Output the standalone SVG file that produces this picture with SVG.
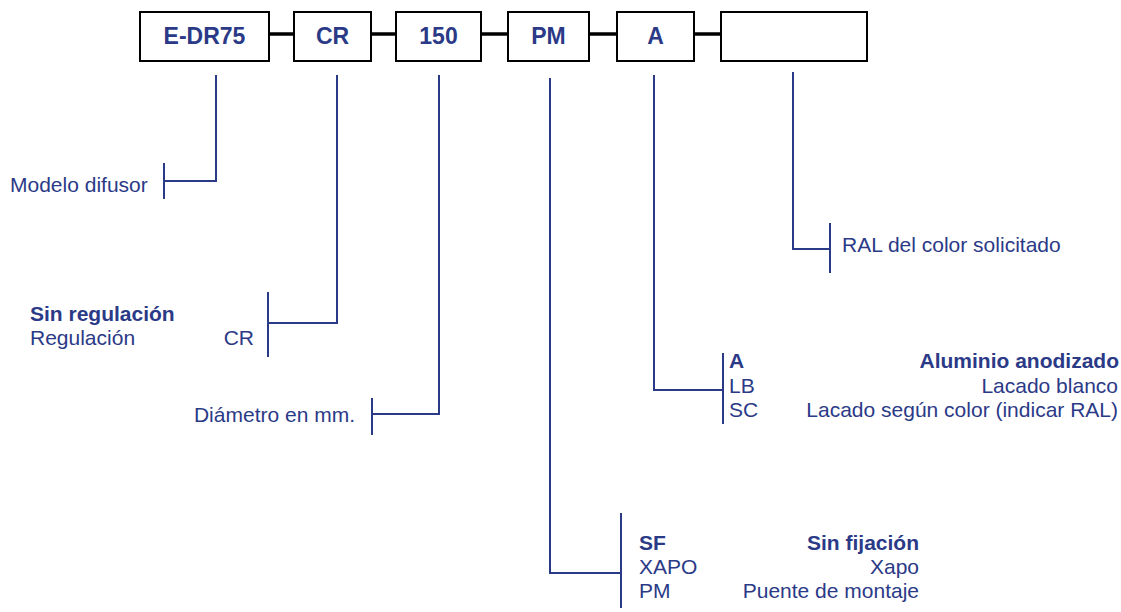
<svg xmlns="http://www.w3.org/2000/svg" width="1121" height="612" viewBox="0 0 1121 612">
<style>
.box{fill:#fff;stroke:#000;stroke-width:2}
.bt{font-family:"Liberation Sans",Arial,sans-serif;font-weight:bold;font-size:23px;fill:#2B3A87;text-anchor:middle}
.t{font-family:"Liberation Sans",Arial,sans-serif;font-size:21px;fill:#2B3A87}
.b{font-weight:bold}
.e{text-anchor:end}
.ln{fill:none;stroke:#2B3A87;stroke-width:2}
.lk{stroke:#000;stroke-width:3.5}
</style>
<rect width="1121" height="612" fill="#fff"/>
<g id="connectors">
<line class="lk" x1="269" y1="34" x2="294" y2="34"/>
<line class="lk" x1="371" y1="34" x2="396" y2="34"/>
<line class="lk" x1="481" y1="34" x2="508" y2="34"/>
<line class="lk" x1="589" y1="34" x2="617" y2="34"/>
<line class="lk" x1="694" y1="34" x2="721" y2="34"/>
<polyline class="ln" points="216,75 216,181 164,181"/>
<line class="ln" x1="164" y1="163" x2="164" y2="199"/>
<polyline class="ln" points="337,75 337,323 268,323"/>
<line class="ln" x1="268" y1="292" x2="268" y2="357"/>
<polyline class="ln" points="439,75 439,414 372,414"/>
<line class="ln" x1="372" y1="398" x2="372" y2="435"/>
<polyline class="ln" points="550,78 550,573 621,573"/>
<line class="ln" x1="621" y1="513" x2="621" y2="608"/>
<polyline class="ln" points="654,75 654,390 723,390"/>
<line class="ln" x1="723" y1="353" x2="723" y2="424"/>
<polyline class="ln" points="793,72 793,249 830,249"/>
<line class="ln" x1="830" y1="223" x2="830" y2="273"/>
</g>
<g id="n-edr75"><rect class="box" x="140" y="12" width="129" height="49"/><text class="bt" x="204.5" y="44">E-DR75</text></g>
<g id="n-cr"><rect class="box" x="294" y="12" width="77" height="49"/><text class="bt" x="332.5" y="44">CR</text></g>
<g id="n-150"><rect class="box" x="396" y="12" width="85" height="49"/><text class="bt" x="438.5" y="44">150</text></g>
<g id="n-pm"><rect class="box" x="508" y="12" width="81" height="49"/><text class="bt" x="548.5" y="44">PM</text></g>
<g id="n-a"><rect class="box" x="617" y="12" width="77" height="49"/><text class="bt" x="655.5" y="44">A</text></g>
<g id="n-ral"><rect class="box" x="721" y="12" width="146" height="49"/></g>
<g id="l-modelo"><text class="t" x="10" y="192">Modelo difusor</text></g>
<g id="l-regulacion">
<text class="t b" x="30" y="321">Sin regulación</text>
<text class="t" x="30" y="344.5">Regulación</text>
<text class="t e" x="254" y="344.5">CR</text>
</g>
<g id="l-diametro"><text class="t e" x="355" y="422">Diámetro en mm.</text></g>
<g id="l-acabado">
<text class="t b" x="729" y="367.5">A</text>
<text class="t b e" x="1119" y="367.5">Aluminio anodizado</text>
<text class="t" x="729" y="392.5">LB</text>
<text class="t e" x="1118" y="392.5">Lacado blanco</text>
<text class="t" x="729" y="416.5">SC</text>
<text class="t e" x="1118" y="416.5">Lacado según color (indicar RAL)</text>
</g>
<g id="l-fijacion">
<text class="t b" x="639" y="550">SF</text>
<text class="t b e" x="919" y="550">Sin fijación</text>
<text class="t" x="639" y="574">XAPO</text>
<text class="t e" x="919" y="574">Xapo</text>
<text class="t" x="639" y="598">PM</text>
<text class="t e" x="919" y="598">Puente de montaje</text>
</g>
<g id="l-ral"><text class="t" x="842" y="252">RAL del color solicitado</text></g>
</svg>
